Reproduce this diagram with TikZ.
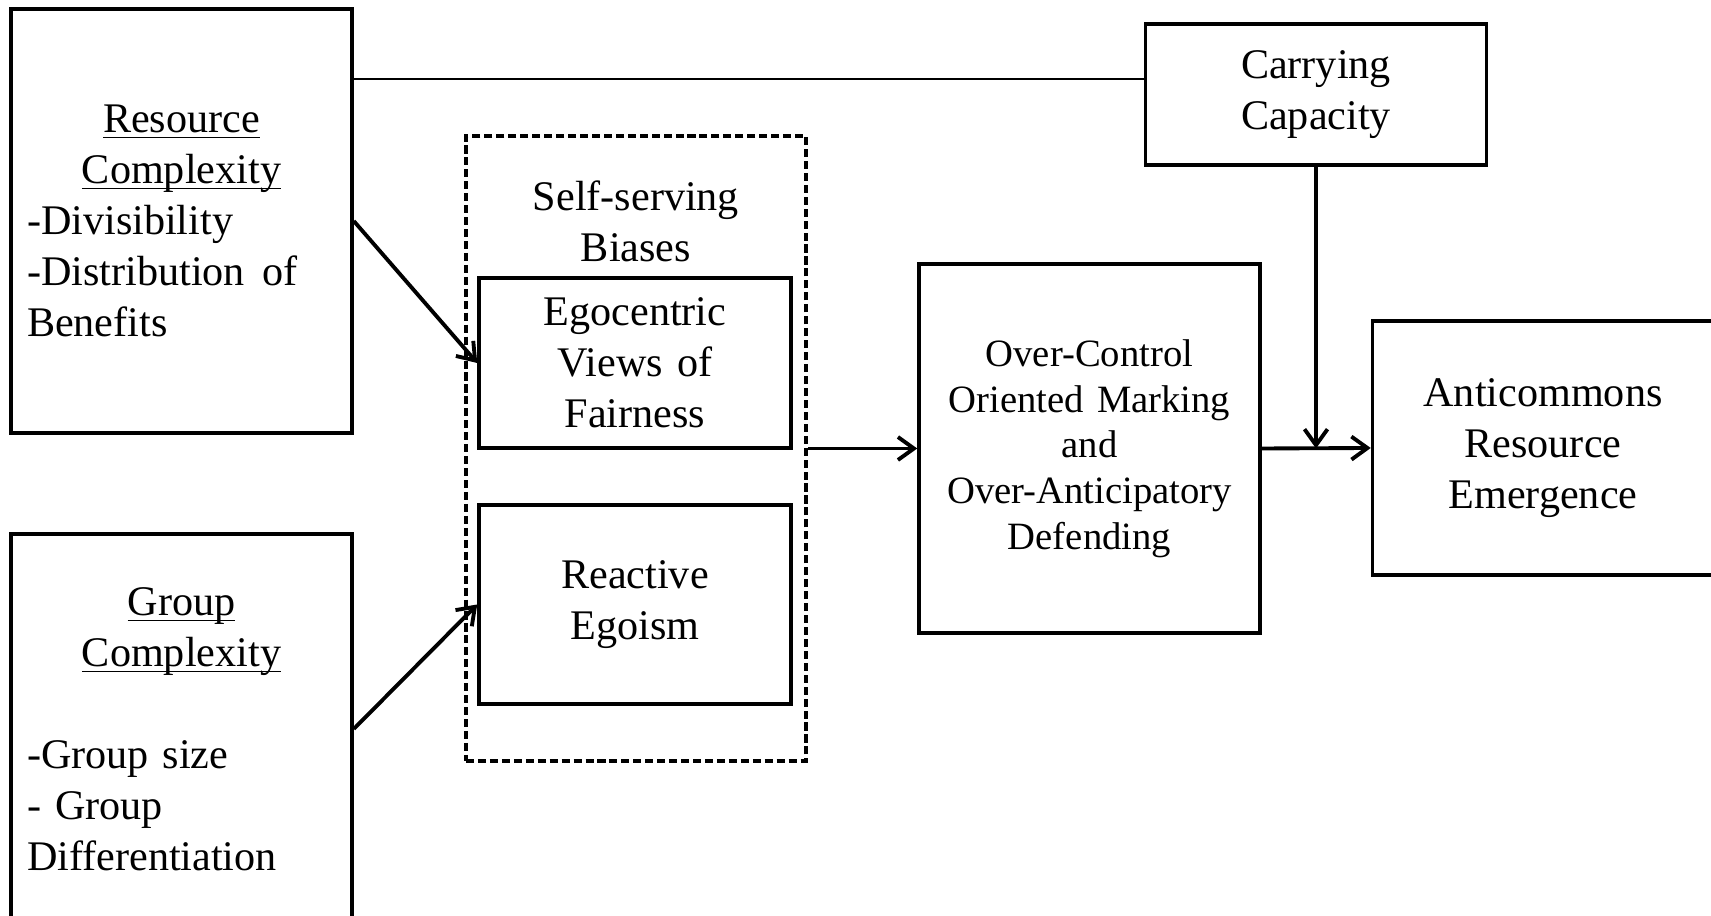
\documentclass[tikz,border=0pt]{standalone}
\usepackage{fontspec}
\setmainfont{Liberation Serif}
\usepackage{tikz}
\usetikzlibrary{arrows.meta}
\pgfdeclarelayer{lineas_capa}
\pgfdeclarelayer{cajas}
\pgfsetlayers{lineas_capa,cajas,main}
\newcommand{\subrayado}[1]{\underline{\smash{#1}}\vphantom{#1}}
\tikzstyle{caja}=[draw=black,line width=1pt,fill=white,font=\fontsize{12}{14.5}\selectfont,inner xsep=0.16cm,inner ysep=0pt,text width=3.09cm,align=center]
\tikzstyle{cajalista}=[style=caja,align=left]
\tikzstyle{punteada}=[draw=black,line width=1pt,dash pattern=on 2.3pt off 1.1pt,inner sep=0pt]
\tikzstyle{titulo}=[inner sep=0pt,font=\fontsize{12}{14.5}\selectfont,align=center]
\tikzstyle{linea}=[draw=black,line width=0.4pt]
\tikzstyle{flecha}=[draw=black,line width=1.1pt,-{Straight Barb[length=1.6mm,width=2.3mm]}]

\begin{document}
\begin{tikzpicture}
		\useasboundingbox (0,0) rectangle (17.11,-9.16);
		\begin{pgfonlayer}{cajas}
			\node [style=cajalista,minimum height=4.24cm] (recurso) at (1.815,-2.21) {{\centering\subrayado{Resource}\\\subrayado{Complexity}\par}\raggedright -Divisibility\\-Distribution\hspace{5pt}of\\Benefits};
			\node [style=cajalista,minimum height=3.90cm] (grupo) at (1.815,-7.29) {{\centering\subrayado{Group}\\\subrayado{Complexity}\\~\par}\raggedright -Group size\\- Group\\Differentiation};
			\node [style=punteada,minimum width=3.40cm,minimum height=6.25cm] (sesgos) at (6.36,-4.485) {};
			\node [style=titulo] (sesgos_titulo) at (6.36,-2.215) {Self-serving\\Biases};
			\node [style=caja,text width=2.80cm,minimum height=1.70cm] (egocentrico) at (6.35,-3.63) {Egocentric\\Views of\\Fairness};
			\node [style=caja,text width=2.80cm,minimum height=1.99cm] (reactivo) at (6.35,-6.045) {Reactive\\Egoism};
			\node [style=caja,font=\fontsize{11}{13}\selectfont,minimum height=3.69cm] (marcado) at (10.895,-4.485) {Over-Control\\Oriented Marking\\and\\Over-Anticipatory\\Defending};
			\node [style=caja,minimum height=1.41cm] (capacidad) at (13.16,-0.945) {Carrying\\Capacity};
			\node [style=caja,minimum height=2.54cm] (anticomunes) at (15.43,-4.48) {Anticommons\\Resource\\Emergence};
		\end{pgfonlayer}
		\begin{pgfonlayer}{lineas_capa}
			\coordinate (tope) at (0,-0.79);
			\coordinate (union) at (capacidad.south |- marcado.east);
			\path [style=linea] (recurso.east |- tope) -- (capacidad.west |- tope);
			\path [style=flecha] (recurso.east) -- (egocentrico.west);
			\path [style=flecha] (grupo.east) -- (reactivo.west);
			\path [style=flecha] (sesgos.east) -- (marcado.west);
			\path [style=flecha] (marcado.east) -- (anticomunes.west);
			\path [style=flecha] (capacidad.south) -- (union);
		\end{pgfonlayer}
\end{tikzpicture}
\end{document}
